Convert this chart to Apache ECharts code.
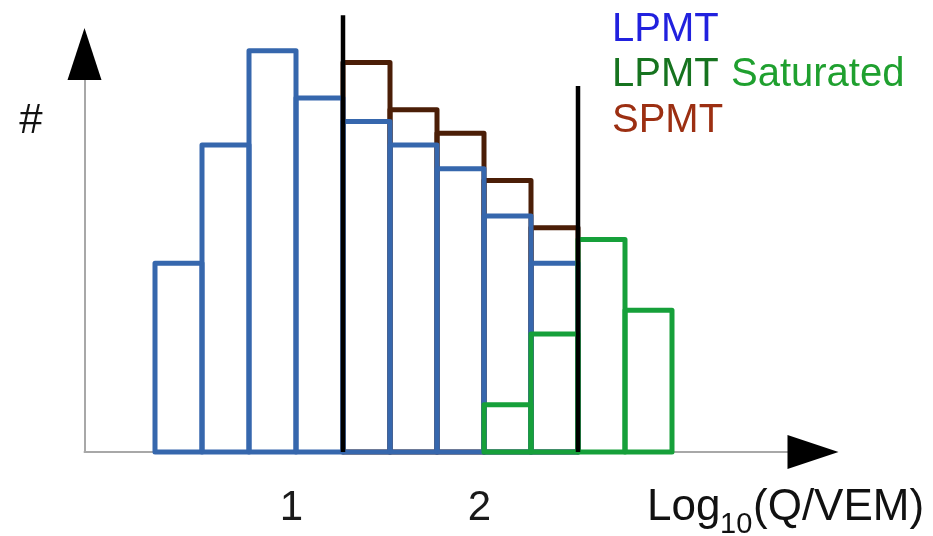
<!DOCTYPE html>
<html>
<head>
<meta charset="utf-8">
<script src="https://cdn.jsdelivr.net/npm/echarts@6/dist/echarts.min.js"></script>
<style>
html,body{margin:0;padding:0;background:#fff;}
#chart{width:933px;height:536px;}
</style>
</head>
<body>
<div id="chart"></div>
<script>
// ---- data ----
const binEdges = [0.25, 0.5, 0.75, 1.0, 1.25, 1.5, 1.75, 2.0, 2.25, 2.5, 2.75, 3.0];
const lpmt      = [8, 13, 17, 15, 14, 13, 12, 10, 8, null, null];
const spmt      = [null, null, null, null, 16.5, 14.5, 13.5, 11.5, 9.5, null, null];
const lpmtSat   = [null, null, null, null, null, null, null, 2, 5, 9, 6];
const thresholdX = [1.25, 2.5];
const thresholdTop = [18.5, 15.5];
const xTickValues = [1, 2];
const legendNames = ['LPMT', 'LPMT Saturated', 'SPMT'];

function toBins(values) {
  const out = [];
  values.forEach(function (v, i) {
    if (v != null) out.push([binEdges[i], binEdges[i + 1], v]);
  });
  return out;
}

function histSeries(name, values, color, z) {
  return {
    name: name,
    type: 'custom',
    z: z,
    clip: false,
    data: toBins(values),
    encode: { x: [0, 1], y: 2 },
    renderItem: function (params, api) {
      const p0 = api.coord([api.value(0), 0]);
      const p1 = api.coord([api.value(1), api.value(2)]);
      return {
        type: 'rect',
        shape: { x: p0[0], y: p1[1], width: p1[0] - p0[0], height: p0[1] - p1[1] },
        style: { fill: 'none', stroke: color, lineWidth: 5, lineJoin: 'round' }
      };
    }
  };
}

const axisGray = '#a8a8a8';
const fontFam = '"Liberation Sans", Arial, sans-serif';

const series = [
  histSeries('SPMT', spmt, '#4b1e07', 2),
  histSeries('LPMT', lpmt, '#3667ad', 3),
  histSeries('LPMT Saturated', lpmtSat, '#16a03a', 4)
];
thresholdX.forEach(function (x, i) {
  series.push({
    type: 'line',
    z: 6,
    clip: false,
    symbol: 'none',
    silent: true,
    lineStyle: { color: '#000', width: 4.5 },
    data: [[x, 0], [x, thresholdTop[i]]]
  });
});

const chart = echarts.init(document.getElementById('chart'));
chart.setOption({
  animation: false,
  backgroundColor: '#fff',
  grid: { left: 84.5, right: 120, top: 54, bottom: 84 },
  xAxis: [
    {
      type: 'value', min: -0.125, max: 3.75,
      axisLine: { show: true, onZero: false, lineStyle: { color: axisGray, width: 2 } },
      axisTick: { show: false },
      splitLine: { show: false },
      axisLabel: {
        customValues: xTickValues,
        fontSize: 42, fontFamily: fontFam, color: '#1a1a1a',
        margin: 35, padding: [0, 9, 0, 0]
      }
    },
    {
      type: 'value', min: -0.125, max: 3.75, position: 'bottom',
      axisLine: { show: true, onZero: false, symbol: ['none', 'triangle'], symbolSize: [34, 51],
                  lineStyle: { color: '#000', width: 0 } },
      axisTick: { show: false }, axisLabel: { show: false }, splitLine: { show: false }
    }
  ],
  yAxis: [
    {
      type: 'value', min: 0, max: 16.86,
      axisLine: { show: true, onZero: false, lineStyle: { color: axisGray, width: 2 } },
      axisTick: { show: false }, axisLabel: { show: false }, splitLine: { show: false }
    },
    {
      type: 'value', min: 0, max: 16.86, position: 'left',
      axisLine: { show: true, onZero: false, symbol: ['none', 'triangle'], symbolSize: [34, 52],
                  lineStyle: { color: '#000', width: 0 } },
      axisTick: { show: false }, axisLabel: { show: false }, splitLine: { show: false }
    }
  ],
  series: series,
  graphic: [
    { type: 'text', x: 31, y: 121, style: { text: '#', fontSize: 42, fontFamily: fontFam, fill: '#111', align: 'center', verticalAlign: 'middle' } },
    { type: 'text', x: 612, y: 30, style: { text: legendNames[0], fontSize: 40, fontFamily: fontFam, fill: '#2121de', align: 'left', verticalAlign: 'middle' } },
    { type: 'text', x: 612, y: 75, style: { text: 'LPMT', fontSize: 40, fontFamily: fontFam, fill: '#16731f', align: 'left', verticalAlign: 'middle' } },
    { type: 'text', x: 731, y: 75, style: { text: 'Saturated', fontSize: 40, fontFamily: fontFam, fill: '#1fa02f', align: 'left', verticalAlign: 'middle' } },
    { type: 'text', x: 612, y: 121, style: { text: legendNames[2], fontSize: 40, fontFamily: fontFam, fill: '#9c2f12', align: 'left', verticalAlign: 'middle' } },
    { type: 'text', x: 647, y: 507.5, style: { text: 'Log', fontSize: 44, fontFamily: fontFam, fill: '#111', align: 'left', verticalAlign: 'middle' } },
    { type: 'text', x: 720, y: 525, style: { text: '10', fontSize: 29, fontFamily: fontFam, fill: '#111', align: 'left', verticalAlign: 'middle' } },
    { type: 'text', x: 753, y: 507.5, style: { text: '(Q/VEM)', fontSize: 44, fontFamily: fontFam, fill: '#111', align: 'left', verticalAlign: 'middle' } }
  ]
});
</script>
</body>
</html>
